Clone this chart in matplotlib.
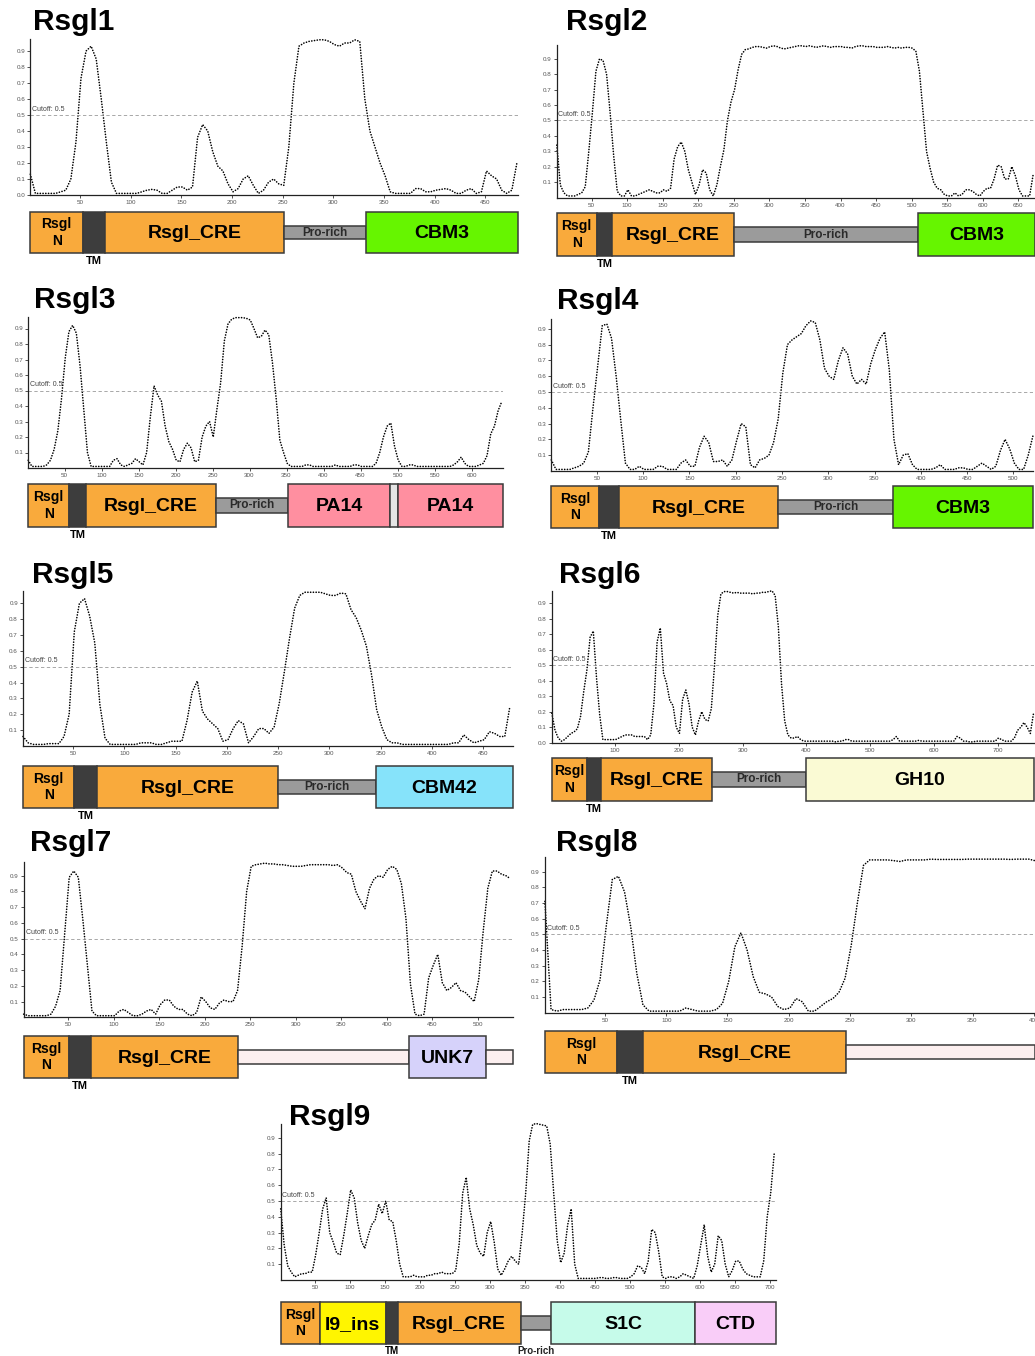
import matplotlib
matplotlib.use('Agg')
import matplotlib.pyplot as plt
import matplotlib.patches as mpatches
import numpy as np

plt.rcParams['font.family'] = ['Liberation Sans', 'DejaVu Sans']

W, H, DPI = 1035, 1356, 100

# --- colours ---
ORANGE = '#F9AA3C'
TM_C   = '#3D3D3D'
PRO_C  = '#9B9B9B'
LINK_C = '#FCEFEF'
EDGE   = '#3A3A3A'
GREEN  = '#66F500'
PINK   = '#FF8FA0'
GAP_C  = '#E4E4E4'
CYAN   = '#86E3FA'
CREAM  = '#FAFAD4'
LILAC  = '#D6D2FA'
YELLOW = '#FFF500'
MINT   = '#C6FBEA'
ORCHID = '#F9CDF8'

# --- disorder profiles (residue 1, 6, 11, ... every 5 residues) ---
STEP = 5
rsgl1_score = [0.13, 0.01, 0.01, 0.01, 0.01, 0.01, 0.02, 0.03, 0.10, 0.33, 0.73, 0.90, 0.93, 0.85, 0.60,
               0.33, 0.08, 0.01, 0.01, 0.01, 0.01, 0.01, 0.02, 0.03, 0.035, 0.03, 0.01, 0.01, 0.03, 0.05,
               0.05, 0.03, 0.05, 0.36, 0.44, 0.40, 0.27, 0.18, 0.15, 0.07, 0.02, 0.04, 0.10, 0.12, 0.06,
               0.01, 0.03, 0.08, 0.10, 0.07, 0.06, 0.30, 0.70, 0.93, 0.95, 0.96, 0.965, 0.97, 0.97, 0.96,
               0.94, 0.93, 0.95, 0.95, 0.97, 0.96, 0.60, 0.40, 0.30, 0.20, 0.12, 0.02, 0.01, 0.01, 0.01,
               0.01, 0.04, 0.04, 0.02, 0.02, 0.03, 0.035, 0.04, 0.03, 0.01, 0.01, 0.03, 0.04, 0.01, 0.02,
               0.15, 0.12, 0.10, 0.03, 0.01, 0.03, 0.20]
rsgl2_score = [0.34, 0.08, 0.03, 0.01, 0.01, 0.01, 0.02, 0.03, 0.07, 0.30, 0.55, 0.82, 0.90, 0.89, 0.80,
               0.55, 0.27, 0.04, 0.01, 0.01, 0.05, 0.01, 0.01, 0.02, 0.03, 0.04, 0.05, 0.04, 0.03, 0.03,
               0.05, 0.04, 0.06, 0.25, 0.33, 0.36, 0.30, 0.18, 0.10, 0.02, 0.08, 0.18, 0.16, 0.05, 0.01,
               0.08, 0.20, 0.31, 0.50, 0.62, 0.70, 0.83, 0.93, 0.96, 0.965, 0.975, 0.98, 0.98, 0.975, 0.97,
               0.98, 0.985, 0.98, 0.97, 0.965, 0.97, 0.975, 0.98, 0.985, 0.985, 0.98, 0.985, 0.98, 0.975, 0.98,
               0.985, 0.98, 0.975, 0.98, 0.98, 0.98, 0.975, 0.975, 0.97, 0.98, 0.985, 0.985, 0.98, 0.98, 0.98,
               0.975, 0.975, 0.975, 0.98, 0.975, 0.97, 0.975, 0.97, 0.975, 0.975, 0.97, 0.95, 0.82, 0.56, 0.30,
               0.19, 0.10, 0.06, 0.05, 0.02, 0.01, 0.01, 0.03, 0.01, 0.02, 0.05, 0.05, 0.04, 0.02, 0.01,
               0.04, 0.06, 0.06, 0.12, 0.21, 0.20, 0.12, 0.12, 0.20, 0.14, 0.05, 0.01, 0.01, 0.01, 0.15]
rsgl3_score = [0.05, 0.01, 0.01, 0.01, 0.01, 0.02, 0.05, 0.12, 0.24, 0.45, 0.71, 0.88, 0.92, 0.87, 0.66,
               0.38, 0.10, 0.01, 0.01, 0.01, 0.01, 0.01, 0.01, 0.05, 0.06, 0.02, 0.01, 0.02, 0.03, 0.06,
               0.04, 0.02, 0.10, 0.33, 0.53, 0.47, 0.43, 0.27, 0.17, 0.12, 0.05, 0.04, 0.12, 0.16, 0.13,
               0.04, 0.05, 0.20, 0.27, 0.30, 0.20, 0.38, 0.55, 0.82, 0.93, 0.96, 0.97, 0.97, 0.97, 0.965,
               0.955, 0.90, 0.84, 0.85, 0.89, 0.86, 0.68, 0.45, 0.18, 0.10, 0.03, 0.01, 0.01, 0.01, 0.01,
               0.02, 0.02, 0.01, 0.01, 0.01, 0.01, 0.01, 0.01, 0.02, 0.01, 0.01, 0.01, 0.01, 0.02, 0.02,
               0.01, 0.01, 0.01, 0.01, 0.03, 0.10, 0.20, 0.27, 0.29, 0.14, 0.05, 0.01, 0.01, 0.02, 0.02,
               0.01, 0.01, 0.01, 0.01, 0.01, 0.01, 0.01, 0.01, 0.01, 0.01, 0.02, 0.04, 0.07, 0.03, 0.01,
               0.01, 0.01, 0.02, 0.03, 0.08, 0.22, 0.27, 0.37, 0.43]
rsgl4_score = [0.07, 0.01, 0.01, 0.01, 0.01, 0.02, 0.03, 0.05, 0.12, 0.40, 0.66, 0.92, 0.93, 0.84, 0.60,
               0.32, 0.05, 0.01, 0.01, 0.03, 0.01, 0.01, 0.01, 0.03, 0.03, 0.01, 0.01, 0.01, 0.05, 0.07,
               0.03, 0.03, 0.15, 0.22, 0.18, 0.06, 0.06, 0.07, 0.03, 0.07, 0.19, 0.30, 0.28, 0.04, 0.02,
               0.07, 0.08, 0.10, 0.18, 0.33, 0.62, 0.80, 0.83, 0.85, 0.87, 0.92, 0.95, 0.94, 0.83, 0.65,
               0.60, 0.58, 0.70, 0.78, 0.74, 0.60, 0.55, 0.58, 0.55, 0.68, 0.77, 0.84, 0.88, 0.64, 0.20,
               0.04, 0.10, 0.11, 0.04, 0.01, 0.01, 0.01, 0.01, 0.02, 0.04, 0.01, 0.01, 0.01, 0.02, 0.02,
               0.01, 0.01, 0.03, 0.05, 0.03, 0.01, 0.03, 0.13, 0.20, 0.14, 0.05, 0.01, 0.01, 0.10, 0.22]
rsgl5_score = [0.06, 0.02, 0.01, 0.01, 0.01, 0.015, 0.015, 0.015, 0.06, 0.20, 0.72, 0.90, 0.93, 0.82, 0.65,
               0.26, 0.05, 0.01, 0.01, 0.01, 0.01, 0.01, 0.01, 0.02, 0.02, 0.02, 0.01, 0.01, 0.02, 0.03,
               0.03, 0.03, 0.16, 0.34, 0.41, 0.22, 0.17, 0.14, 0.11, 0.03, 0.04, 0.11, 0.16, 0.14, 0.02,
               0.06, 0.11, 0.11, 0.08, 0.12, 0.27, 0.47, 0.68, 0.87, 0.95, 0.97, 0.97, 0.97, 0.97, 0.96,
               0.95, 0.95, 0.965, 0.96, 0.86, 0.81, 0.73, 0.63, 0.45, 0.23, 0.12, 0.04, 0.02, 0.02, 0.01,
               0.01, 0.01, 0.01, 0.01, 0.01, 0.01, 0.01, 0.01, 0.01, 0.02, 0.02, 0.07, 0.04, 0.02, 0.03,
               0.04, 0.09, 0.08, 0.06, 0.06, 0.25]
rsgl6_score = [0.19, 0.08, 0.03, 0.01, 0.02, 0.04, 0.06, 0.07, 0.09, 0.17, 0.33, 0.47, 0.68, 0.72, 0.42,
               0.18, 0.02, 0.02, 0.02, 0.02, 0.02, 0.03, 0.04, 0.05, 0.05, 0.05, 0.04, 0.04, 0.04, 0.04,
               0.02, 0.05, 0.25, 0.65, 0.74, 0.45, 0.38, 0.27, 0.24, 0.10, 0.06, 0.28, 0.34, 0.25, 0.10,
               0.05, 0.14, 0.20, 0.15, 0.14, 0.22, 0.50, 0.82, 0.96, 0.975, 0.975, 0.97, 0.965, 0.97, 0.965,
               0.965, 0.965, 0.965, 0.96, 0.965, 0.965, 0.97, 0.97, 0.975, 0.98, 0.95, 0.75, 0.38, 0.14, 0.05,
               0.03, 0.03, 0.04, 0.02, 0.01, 0.01, 0.01, 0.01, 0.01, 0.01, 0.01, 0.01, 0.01, 0.01, 0.005,
               0.01, 0.01, 0.02, 0.02, 0.01, 0.01, 0.01, 0.01, 0.01, 0.01, 0.01, 0.01, 0.01, 0.01, 0.01,
               0.01, 0.01, 0.02, 0.04, 0.01, 0.01, 0.01, 0.01, 0.01, 0.01, 0.015, 0.01, 0.01, 0.01, 0.01,
               0.01, 0.01, 0.01, 0.01, 0.01, 0.01, 0.01, 0.04, 0.03, 0.01, 0.01, 0.005, 0.005, 0.01, 0.01,
               0.01, 0.01, 0.01, 0.01, 0.01, 0.03, 0.02, 0.01, 0.01, 0.01, 0.03, 0.08, 0.10, 0.13, 0.10,
               0.06, 0.19]
rsgl7_score = [0.02, 0.01, 0.01, 0.01, 0.01, 0.01, 0.02, 0.07, 0.17, 0.53, 0.89, 0.93, 0.89, 0.62, 0.33,
               0.04, 0.01, 0.01, 0.01, 0.01, 0.01, 0.04, 0.05, 0.03, 0.01, 0.01, 0.02, 0.04, 0.05, 0.02,
               0.08, 0.11, 0.11, 0.07, 0.05, 0.05, 0.02, 0.01, 0.03, 0.13, 0.10, 0.06, 0.05, 0.09, 0.11,
               0.10, 0.10, 0.17, 0.45, 0.80, 0.96, 0.97, 0.975, 0.98, 0.975, 0.975, 0.97, 0.97, 0.965, 0.96,
               0.96, 0.96, 0.965, 0.97, 0.97, 0.97, 0.97, 0.97, 0.965, 0.97, 0.95, 0.92, 0.91, 0.80, 0.74,
               0.69, 0.82, 0.88, 0.90, 0.89, 0.94, 0.96, 0.94, 0.85, 0.63, 0.21, 0.02, 0.01, 0.02, 0.25,
               0.33, 0.40, 0.22, 0.17, 0.19, 0.22, 0.17, 0.16, 0.13, 0.10, 0.24, 0.55, 0.82, 0.93, 0.93,
               0.91, 0.90, 0.88]
rsgl8_score = [0.71, 0.02, 0.01, 0.02, 0.02, 0.02, 0.02, 0.03, 0.08, 0.21, 0.55, 0.85, 0.87, 0.77, 0.55,
               0.25, 0.05, 0.01, 0.01, 0.01, 0.01, 0.01, 0.01, 0.03, 0.02, 0.01, 0.01, 0.01, 0.02, 0.06,
               0.20, 0.42, 0.51, 0.40, 0.23, 0.13, 0.12, 0.10, 0.04, 0.02, 0.03, 0.09, 0.07, 0.01, 0.01,
               0.04, 0.07, 0.09, 0.13, 0.22, 0.43, 0.70, 0.94, 0.975, 0.975, 0.975, 0.975, 0.97, 0.965, 0.975,
               0.975, 0.975, 0.975, 0.98, 0.978, 0.978, 0.978, 0.978, 0.978, 0.98, 0.98, 0.98, 0.98, 0.98, 0.98,
               0.98, 0.978, 0.98, 0.98, 0.98, 0.97]
rsgl9_score = [0.45, 0.22, 0.09, 0.05, 0.02, 0.03, 0.04, 0.04, 0.05, 0.05, 0.16, 0.30, 0.45, 0.52, 0.30,
               0.24, 0.17, 0.16, 0.28, 0.42, 0.57, 0.52, 0.36, 0.25, 0.20, 0.28, 0.35, 0.38, 0.48, 0.42,
               0.50, 0.38, 0.37, 0.25, 0.10, 0.02, 0.02, 0.02, 0.03, 0.02, 0.02, 0.02, 0.03, 0.03, 0.04,
               0.04, 0.05, 0.04, 0.04, 0.04, 0.06, 0.23, 0.55, 0.65, 0.45, 0.35, 0.22, 0.17, 0.15, 0.30,
               0.37, 0.24, 0.07, 0.03, 0.07, 0.12, 0.15, 0.12, 0.10, 0.30, 0.55, 0.88, 0.985, 0.99, 0.985,
               0.98, 0.975, 0.86, 0.55, 0.25, 0.11, 0.17, 0.35, 0.45, 0.10, 0.01, 0.01, 0.01, 0.01, 0.01,
               0.01, 0.015, 0.015, 0.01, 0.01, 0.015, 0.015, 0.01, 0.01, 0.01, 0.02, 0.04, 0.09, 0.08, 0.04,
               0.12, 0.32, 0.30, 0.18, 0.02, 0.01, 0.02, 0.02, 0.01, 0.02, 0.04, 0.03, 0.02, 0.01, 0.09,
               0.22, 0.35, 0.15, 0.05, 0.10, 0.28, 0.25, 0.10, 0.02, 0.06, 0.12, 0.12, 0.07, 0.04, 0.03,
               0.02, 0.02, 0.02, 0.12, 0.40, 0.55, 0.80]

# --- domain architecture: (start, end, label, colour, thin) ---
rsgl1_domains = [(1, 53, 'Rsgl\nN', ORANGE, False), (53, 75, 'TM', TM_C, False),
                 (75, 251, 'Rsgl_CRE', ORANGE, False), (251, 332, 'Pro-rich', PRO_C, True),
                 (332, 482, 'CBM3', GREEN, False)]
rsgl2_domains = [(1, 57, 'Rsgl\nN', ORANGE, False), (57, 79, 'TM', TM_C, False),
                 (79, 250, 'Rsgl_CRE', ORANGE, False), (250, 509, 'Pro-rich', PRO_C, True),
                 (509, 673, 'CBM3', GREEN, False)]
rsgl3_domains = [(1, 56, 'Rsgl\nN', ORANGE, False), (56, 79, 'TM', TM_C, False),
                 (79, 255, 'Rsgl_CRE', ORANGE, False), (255, 352, 'Pro-rich', PRO_C, True),
                 (352, 490, 'PA14', PINK, False), (490, 500, '', GAP_C, False),
                 (500, 642, 'PA14', PINK, False)]
rsgl4_domains = [(1, 52, 'Rsgl\nN', ORANGE, False), (52, 74, 'TM', TM_C, False),
                 (74, 246, 'Rsgl_CRE', ORANGE, False), (246, 370, 'Pro-rich', PRO_C, True),
                 (370, 521, 'CBM3', GREEN, False)]
rsgl5_domains = [(1, 51, 'Rsgl\nN', ORANGE, False), (51, 73, 'TM', TM_C, False),
                 (73, 250, 'Rsgl_CRE', ORANGE, False), (250, 345, 'Pro-rich', PRO_C, True),
                 (345, 479, 'CBM42', CYAN, False)]
rsgl6_domains = [(1, 56, 'Rsgl\nN', ORANGE, False), (56, 78, 'TM', TM_C, False),
                 (78, 252, 'Rsgl_CRE', ORANGE, False), (252, 399, 'Pro-rich', PRO_C, True),
                 (399, 756, 'GH10', CREAM, False)]
rsgl7_domains = [(1, 51, 'Rsgl\nN', ORANGE, False), (51, 75, 'TM', TM_C, False),
                 (75, 236, 'Rsgl_CRE', ORANGE, False), (236, 424, '', LINK_C, True),
                 (424, 509, 'UNK7', LILAC, False), (509, 539, '', LINK_C, True)]
rsgl8_domains = [(1, 60, 'Rsgl\nN', ORANGE, False), (60, 81, 'TM', TM_C, False),
                 (81, 247, 'Rsgl_CRE', ORANGE, False), (247, 404, '', LINK_C, True)]
rsgl9_domains = [(1, 57, 'Rsgl\nN', ORANGE, False), (57, 151, 'I9_ins', YELLOW, False),
                 (151, 168, 'TM', TM_C, False), (168, 344, 'Rsgl_CRE', ORANGE, False),
                 (344, 387, 'Pro-rich', PRO_C, True), (387, 593, 'S1C', MINT, False),
                 (593, 709, 'CTD', ORCHID, False)]

names   = ['Rsgl1', 'Rsgl2', 'Rsgl3', 'Rsgl4', 'Rsgl5', 'Rsgl6', 'Rsgl7', 'Rsgl8', 'Rsgl9']
lengths = [482, 673, 642, 521, 479, 756, 539, 401, 708]
scores  = [rsgl1_score, rsgl2_score, rsgl3_score, rsgl4_score, rsgl5_score,
           rsgl6_score, rsgl7_score, rsgl8_score, rsgl9_score]
domains = [rsgl1_domains, rsgl2_domains, rsgl3_domains, rsgl4_domains, rsgl5_domains,
           rsgl6_domains, rsgl7_domains, rsgl8_domains, rsgl9_domains]

# --- layout in pixels: residue-0 x, px per residue, y of score 0, px per unit score,
#     y max, domain bar top/bottom, title x/baseline, x tick step, show 0.0 ---
layout = [
    dict(x0=29.3, s=1.0137, y0=195.0, ppu=160, ymax=0.975, dt=212, db=253, tx=33, ty=30, xs=50, zero=True),
    dict(x0=556.1, s=0.711, y0=197.5, ppu=154, ymax=0.99, dt=213, db=256, tx=566, ty=30, xs=50, zero=False),
    dict(x0=27.5, s=0.740, y0=468.0, ppu=155, ymax=0.976, dt=484, db=527, tx=34, ty=308, xs=50, zero=False),
    dict(x0=550.4, s=0.926, y0=471.0, ppu=158, ymax=0.96, dt=486, db=528, tx=557, ty=309, xs=50, zero=False),
    dict(x0=22.0, s=1.025, y0=746.0, ppu=158.5, ymax=0.98, dt=766, db=808, tx=32, ty=583, xs=50, zero=False),
    dict(x0=551.2, s=0.638, y0=742.7, ppu=155, ymax=0.98, dt=758, db=801, tx=559, ty=583, xs=100, zero=True),
    dict(x0=22.8, s=0.910, y0=1017.3, ppu=157.3, ymax=0.99, dt=1036, db=1078, tx=30, ty=851, xs=50, zero=False),
    dict(x0=543.7, s=1.226, y0=1012.7, ppu=156.7, ymax=0.995, dt=1031, db=1073, tx=556, ty=851, xs=50, zero=False),
    dict(x0=280.0, s=0.700, y0=1280.0, ppu=158, ymax=0.99, dt=1302, db=1344, tx=289, ty=1125, xs=50, zero=False),
]

fig = plt.figure(figsize=(W / DPI, H / DPI), dpi=DPI)
fig.patch.set_facecolor('white')


def px_axes(left, top, right, bottom):
    return fig.add_axes([left / W, 1 - bottom / H, (right - left) / W, (bottom - top) / H])


for name, L, vals, doms, g in zip(names, lengths, scores, domains, layout):
    left = g['x0'] + g['s'] * 1
    right = min(g['x0'] + g['s'] * L, W)
    top = g['y0'] - g['ppu'] * g['ymax']
    bottom_row = g['db'] > 1300

    # disorder profile
    ax = px_axes(left, top, right, g['y0'])
    res = 1 + STEP * np.arange(len(vals))
    ax.plot(res, vals, color='black', lw=1.2, ls=(0, (0.05, 1.6)),
            dash_capstyle='round', clip_on=False)
    ax.axhline(0.5, color='#9A9A9A', lw=0.6, ls=(0, (4, 3)))
    ax.text(3, 0.515, 'Cutoff: 0.5', fontsize=5, color='#444444', va='bottom', ha='left')
    ax.set_xlim(1, L)
    ax.set_ylim(0, g['ymax'])
    ax.set_xticks(np.arange(g['xs'], L + 1, g['xs']))
    yt = np.round(np.arange(0.0 if g['zero'] else 0.1, 0.95, 0.1), 1)
    ax.set_yticks(yt)
    ax.set_yticklabels([f'{v:.1f}' for v in yt])
    for sp in ['top', 'right']:
        ax.spines[sp].set_visible(False)
    for sp in ['left', 'bottom']:
        ax.spines[sp].set_linewidth(0.9)
        ax.spines[sp].set_color('#222222')
    ax.tick_params(labelsize=4.5, labelcolor='#555555', length=2.2, width=0.6,
                   color='#333333', pad=1.5)
    ax.patch.set_alpha(0)

    fig.text(g['tx'] / W, 1 - g['ty'] / H, name, fontsize=21.5, fontweight='bold',
             ha='left', va='baseline')

    # domain architecture
    dax = px_axes(left, g['dt'], right, g['db'])
    dax.set_xlim(1, L)
    dax.set_ylim(0, 1)
    dax.axis('off')
    hbar = g['db'] - g['dt']
    for start, end, label, color, thin in doms:
        end = min(end, L)
        y, h = (0.33, 0.34) if thin else (0.0, 1.0)
        dax.add_patch(mpatches.Rectangle((start, y), end - start, h, facecolor=color,
                                         edgecolor=EDGE, lw=1.1, clip_on=False, zorder=2))
        cx = (start + end) / 2
        wpx = (end - start) * g['s']
        below_kw = dict(ha='center', va='top', fontweight='bold', zorder=4)
        yb = -0.08
        if bottom_row:
            # keep the under-bar labels inside the bottom edge
            below_kw['va'] = 'baseline'
            yb = -10.0 / hbar
        if label == 'TM':
            dax.text(cx, yb, 'TM', fontsize=8 if not bottom_row else 7, **below_kw)
        elif label == 'Rsgl\nN':
            dax.text(cx, 0.5, label, fontsize=10, fontweight='bold', ha='center', va='center',
                     linespacing=1.25, zorder=3)
        elif label == 'Pro-rich':
            if wpx < 50:
                dax.text(cx, yb, label, fontsize=7, color='#222222', **below_kw)
            else:
                dax.text(cx, 0.5, label, fontsize=8.5, fontweight='bold', ha='center', va='center',
                         color='#2A2A2A', zorder=3)
        elif label:
            dax.text(cx, 0.47, label, fontsize=14, fontweight='bold', ha='center', va='center',
                     zorder=3)

fig.savefig('out.png', dpi=DPI, facecolor='white')
